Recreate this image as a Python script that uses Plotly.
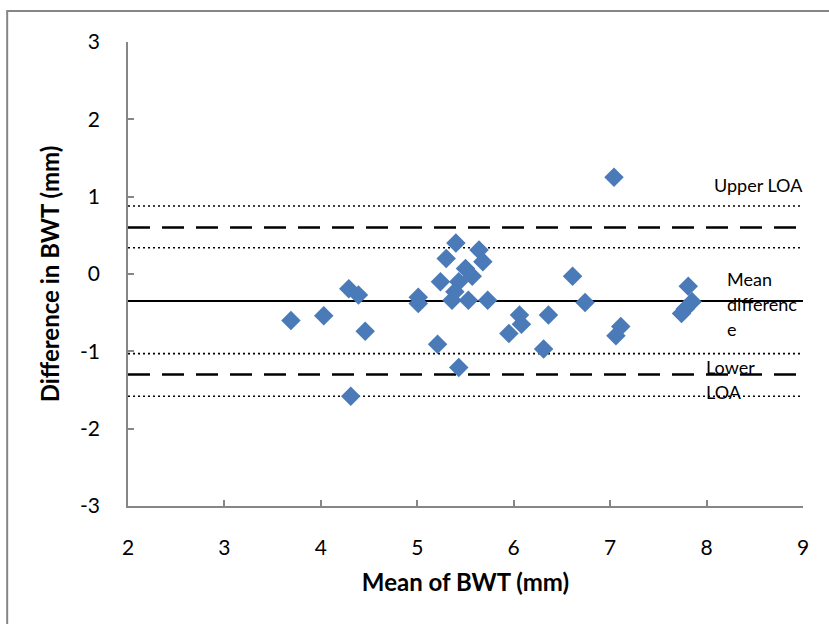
import plotly.graph_objects as go

# Data points (mean of BWT, difference in BWT)
mean_bwt = [3.69, 4.03, 4.29, 4.39, 4.46, 4.31, 5.01, 5.01, 5.21, 5.24, 5.30, 5.40,
            5.64, 5.68, 5.50, 5.57, 5.43, 5.39, 5.36, 5.53, 5.73, 5.43, 5.95, 6.06,
            6.08, 6.31, 6.36, 6.61, 6.74, 7.04, 7.11, 7.06, 7.81, 7.85, 7.78, 7.74]
diff_bwt = [-0.60, -0.54, -0.19, -0.27, -0.74, -1.58, -0.30, -0.38, -0.91, -0.10, 0.20, 0.40,
            0.31, 0.16, 0.07, -0.03, -0.10, -0.23, -0.34, -0.34, -0.34, -1.21, -0.77, -0.53,
            -0.65, -0.97, -0.53, -0.03, -0.37, 1.25, -0.68, -0.80, -0.16, -0.36, -0.45, -0.51]

# Reference lines
line_x = [2, 9]
mean_diff = -0.35
upper_loa = 0.60
lower_loa = -1.30
upper_ci = [0.88, 0.34]
lower_ci = [-1.03, -1.58]

x_ticks = [2, 3, 4, 5, 6, 7, 8, 9]
y_ticks = [-3, -2, -1, 0, 1, 2, 3]
y_tick_text = ["-3", "-2", "-1", "0", "1", "2", "3"]

FONT = "Lato"
AX = "#868686"

fig = go.Figure()

for v in upper_ci + lower_ci:
    fig.add_trace(go.Scatter(x=line_x, y=[v, v], mode="lines",
                             line=dict(color="black", width=1.6, dash="2px,3px"),
                             showlegend=False, hoverinfo="skip"))
for v in [upper_loa, lower_loa]:
    fig.add_trace(go.Scatter(x=line_x, y=[v, v], mode="lines",
                             line=dict(color="black", width=2.5, dash="22px,12px"),
                             showlegend=False, hoverinfo="skip"))
fig.add_trace(go.Scatter(x=line_x, y=[mean_diff, mean_diff], mode="lines",
                         line=dict(color="black", width=2),
                         showlegend=False, hoverinfo="skip"))

fig.add_trace(go.Scatter(x=mean_bwt, y=diff_bwt, mode="markers",
                         marker=dict(symbol="diamond", size=15, color="#4A7AB8",
                                     line=dict(width=0)),
                         showlegend=False))

ann_font = dict(family=FONT, size=18, color="black")
labels = [
    ("Upper LOA", 8.056, 1.15),
    ("Mean", 8.19, -0.07),
    ("differenc", 8.19, -0.39),
    ("e", 8.19, -0.71),
    ("Lower", 7.97, -1.20),
    ("LOA", 7.97, -1.52),
]
for t, x, y in labels:
    fig.add_annotation(x=x, y=y, text=t, showarrow=False, xanchor="left",
                       yanchor="middle", font=ann_font)

# Outer chart border
fig.add_shape(type="rect", xref="paper", yref="paper", x0=-0.179, x1=1.2,
              y0=-0.4, y1=1.067, line=dict(color=AX, width=2), layer="below")

fig.update_xaxes(range=[2, 9], tickvals=x_ticks, ticks="inside", ticklen=6,
                 tickcolor=AX, tickwidth=1.5, showline=True, linecolor=AX, linewidth=1.5,
                 showgrid=False, zeroline=False,
                 tickfont=dict(family=FONT, size=21, color="black"),
                 ticklabelstandoff=22,
                 title=dict(text="<b>Mean of BWT (mm)</b>", standoff=16,
                            font=dict(family=FONT, size=24, color="black")))
fig.update_yaxes(range=[-3, 3], tickvals=y_ticks, ticktext=y_tick_text,
                 ticks="inside", ticklen=6,
                 tickcolor=AX, tickwidth=1.5, showline=True, linecolor=AX, linewidth=1.5,
                 showgrid=False, zeroline=False,
                 tickfont=dict(family=FONT, size=21, color="black"),
                 ticklabelstandoff=22,
                 title=dict(text="<b>Difference in BWT (mm)</b>", standoff=14,
                            font=dict(family=FONT, size=24, color="black")))

fig.update_layout(width=829, height=624, plot_bgcolor="white", paper_bgcolor="white",
                  margin=dict(l=128, r=26, t=42, b=118), showlegend=False)

fig.write_html("out.html")
